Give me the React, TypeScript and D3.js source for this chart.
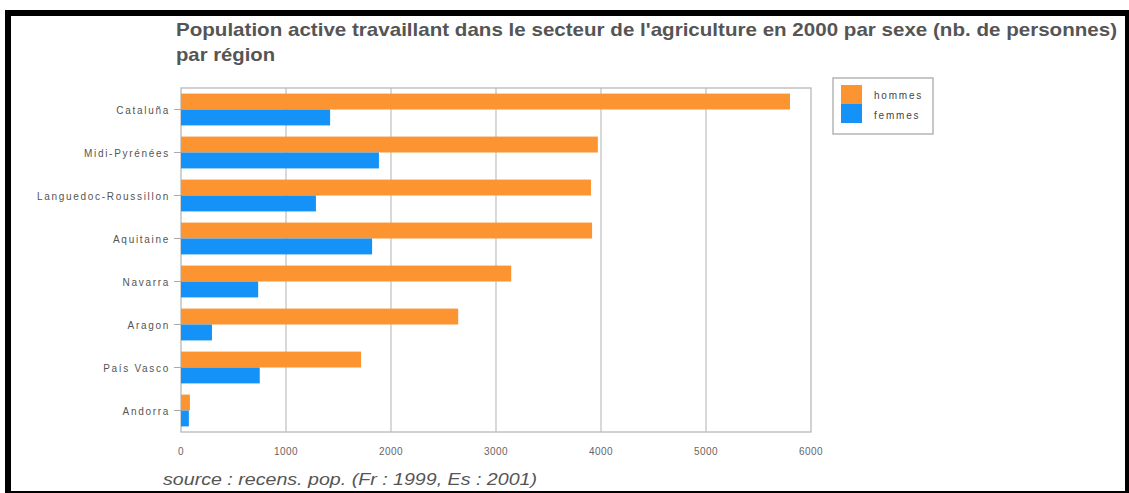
import React, { useRef, useEffect } from "react";
import * as d3 from "d3";

const regions = [
  "Cataluña",
  "Midi-Pyrénées",
  "Languedoc-Roussillon",
  "Aquitaine",
  "Navarra",
  "Aragon",
  "País Vasco",
  "Andorra",
];
const hommes = [5800, 3970, 3905, 3915, 3145, 2640, 1715, 85];
const femmes = [1420, 1885, 1285, 1820, 735, 295, 750, 75];
const seriesNames = ["hommes", "femmes"];
const xTicks = [0, 1000, 2000, 3000, 4000, 5000, 6000];

const titleLines = [
  "Population active travaillant dans le secteur de l'agriculture en 2000 par sexe (nb. de personnes)",
  "par région",
];
const sourceText = "source : recens. pop. (Fr : 1999, Es : 2001)";

const W = 1129;
const H = 493;
const colors = ["#fc9531", "#1592f7"];
const font = "'Liberation Sans', Arial, sans-serif";

export default function App() {
  const svgRef = useRef<SVGSVGElement>(null);

  useEffect(() => {
    if (!svgRef.current) return;
    const svg = d3.select(svgRef.current);
    svg.selectAll("*").remove();

    const plot = { left: 181, top: 88, right: 811, bottom: 432 };

    svg.append("rect").attr("width", W).attr("height", H).attr("fill", "#fff");

    // title, two lines, stretched to the width seen in the picture
    svg
      .append("text")
      .attr("x", 176)
      .attr("y", 36)
      .attr("font-family", font)
      .attr("font-weight", "bold")
      .attr("font-size", 19)
      .attr("fill", "#555")
      .attr("textLength", 941)
      .attr("lengthAdjust", "spacingAndGlyphs")
      .text(titleLines[0]);
    svg
      .append("text")
      .attr("x", 176)
      .attr("y", 61)
      .attr("font-family", font)
      .attr("font-weight", "bold")
      .attr("font-size", 19)
      .attr("fill", "#555")
      .attr("textLength", 99)
      .attr("lengthAdjust", "spacingAndGlyphs")
      .text(titleLines[1]);

    const x = d3.scaleLinear().domain([0, 6000]).range([plot.left, plot.right]);
    const y = d3
      .scaleBand()
      .domain(regions)
      .range([plot.top, plot.bottom])
      .paddingInner(0.26)
      .paddingOuter(0.13);
    const ySub = d3
      .scaleBand()
      .domain(seriesNames)
      .range([0, y.bandwidth()]);

    // grid
    svg
      .append("g")
      .selectAll("line")
      .data(xTicks.slice(1, -1))
      .join("line")
      .attr("x1", (d) => x(d))
      .attr("x2", (d) => x(d))
      .attr("y1", plot.top)
      .attr("y2", plot.bottom)
      .attr("stroke", "#c4c4c4")
      .attr("stroke-width", 1.3);

    svg
      .append("rect")
      .attr("x", plot.left)
      .attr("y", plot.top)
      .attr("width", plot.right - plot.left)
      .attr("height", plot.bottom - plot.top)
      .attr("fill", "none")
      .attr("stroke", "#b8b8b8")
      .attr("stroke-width", 1.3);

    // bars
    const groups = svg
      .append("g")
      .selectAll("g")
      .data(regions)
      .join("g")
      .attr("transform", (d) => `translate(0,${y(d)})`);

    groups
      .selectAll("rect")
      .data((d, i) => [hommes[i], femmes[i]].map((v, j) => ({ v, s: seriesNames[j], j })))
      .join("rect")
      .attr("x", x(0))
      .attr("y", (d) => ySub(d.s) || 0)
      .attr("width", (d) => x(d.v) - x(0))
      .attr("height", ySub.bandwidth())
      .attr("fill", (d) => colors[d.j]);

    // y labels + ticks
    const yl = svg.append("g");
    yl.selectAll("line")
      .data(regions)
      .join("line")
      .attr("x1", plot.left - 7)
      .attr("x2", plot.left)
      .attr("y1", (d) => (y(d) || 0) + y.bandwidth() / 2)
      .attr("y2", (d) => (y(d) || 0) + y.bandwidth() / 2)
      .attr("stroke", "#aaa");
    yl.selectAll("text")
      .data(regions)
      .join("text")
      .attr("x", plot.left - 11)
      .attr("y", (d) => (y(d) || 0) + y.bandwidth() / 2 + 4)
      .attr("text-anchor", "end")
      .attr("font-family", font)
      .attr("font-size", 10)
      .attr("letter-spacing", 1.7)
      .attr("fill", "#555")
      .text((d) => d);

    // x tick labels
    svg
      .append("g")
      .selectAll("text")
      .data(xTicks)
      .join("text")
      .attr("x", (d) => x(d))
      .attr("y", 455)
      .attr("text-anchor", "middle")
      .attr("font-family", font)
      .attr("font-size", 10)
      .attr("letter-spacing", 0.4)
      .attr("fill", "#666")
      .text((d) => String(d));

    // legend
    const lg = svg.append("g");
    lg.append("rect")
      .attr("x", 833)
      .attr("y", 78)
      .attr("width", 100)
      .attr("height", 56)
      .attr("fill", "#fff")
      .attr("stroke", "#aaa")
      .attr("stroke-width", 1.3);
    seriesNames.forEach((name, i) => {
      lg.append("rect")
        .attr("x", 841)
        .attr("y", 85 + i * 19)
        .attr("width", 21)
        .attr("height", 19)
        .attr("fill", colors[i]);
      lg.append("text")
        .attr("x", 874)
        .attr("y", 99 + i * 20)
        .attr("font-family", font)
        .attr("font-size", 10)
        .attr("letter-spacing", 1.8)
        .attr("fill", "#444")
        .text(name);
    });

    // source
    svg
      .append("text")
      .attr("x", 163)
      .attr("y", 485)
      .attr("font-family", font)
      .attr("font-style", "italic")
      .attr("font-size", 16)
      .attr("fill", "#555")
      .attr("textLength", 374)
      .attr("lengthAdjust", "spacingAndGlyphs")
      .text(sourceText);

    // black frame
    svg
      .append("rect")
      .attr("x", 8)
      .attr("y", 13)
      .attr("width", 1120)
      .attr("height", 481)
      .attr("fill", "none")
      .attr("stroke", "#000")
      .attr("stroke-width", 6);
  }, []);

  return (
    <svg
      ref={svgRef}
      width={W}
      height={H}
      style={{ position: "absolute", left: 0, top: 0 }}
    />
  );
}
